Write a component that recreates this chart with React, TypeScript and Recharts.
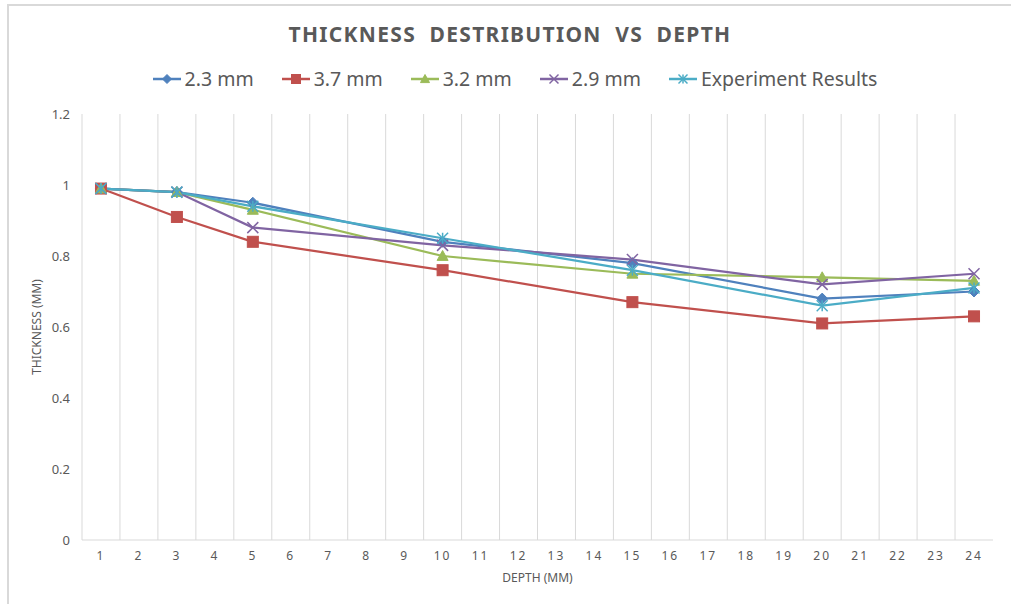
import React from 'react';
import { LineChart, Line, XAxis, YAxis, CartesianGrid, Legend } from 'recharts';

// Category axis labels (depth, mm)
const depthCategories = [
  '1', '2', '3', '4', '5', '6', '7', '8', '9', '10', '11', '12',
  '13', '14', '15', '16', '17', '18', '19', '20', '21', '22', '23', '24',
];

// Depths at which thickness was recorded
const measuredDepths = [1, 3, 5, 10, 15, 20, 24];

// Thickness values (mm) per series, one per measured depth
const thickness23 = [0.99, 0.98, 0.95, 0.84, 0.78, 0.68, 0.7];
const thickness37 = [0.99, 0.91, 0.84, 0.76, 0.67, 0.61, 0.63];
const thickness32 = [0.99, 0.98, 0.93, 0.8, 0.75, 0.74, 0.73];
const thickness29 = [0.99, 0.98, 0.88, 0.83, 0.79, 0.72, 0.75];
const thicknessExp = [0.99, 0.98, 0.94, 0.85, 0.76, 0.66, 0.71];

const yTicks = [0, 0.2, 0.4, 0.6, 0.8, 1, 1.2];

const FONT = '"Noto Sans", "Open Sans", sans-serif';
const TEXT = '#595959';
const GRID = '#d9d9d9';

type MarkerKind = 'diamond' | 'square' | 'triangle' | 'x' | 'star';

const seriesDefs: { key: string; name: string; color: string; marker: MarkerKind; values: number[] }[] = [
  { key: 's23', name: '2.3 mm', color: '#4F81BD', marker: 'diamond', values: thickness23 },
  { key: 's37', name: '3.7 mm', color: '#C0504D', marker: 'square', values: thickness37 },
  { key: 's32', name: '3.2 mm', color: '#9BBB59', marker: 'triangle', values: thickness32 },
  { key: 's29', name: '2.9 mm', color: '#8064A2', marker: 'x', values: thickness29 },
  { key: 'exp', name: 'Experiment Results', color: '#4BACC6', marker: 'star', values: thicknessExp },
];

const rows = depthCategories.map((d) => {
  const idx = measuredDepths.indexOf(Number(d));
  const row: Record<string, string | number | null> = { depth: d };
  seriesDefs.forEach((s) => {
    row[s.key] = idx >= 0 ? s.values[idx] : null;
  });
  return row;
});

const PLOT_LEFT = 82;
const PLOT_RIGHT_MARGIN = 18;
const CHART_W = 1011;
const halfBand = (CHART_W - PLOT_LEFT - PLOT_RIGHT_MARGIN) / depthCategories.length / 2;

function Marker({ kind, cx, cy, color, r }: { kind: MarkerKind; cx: number; cy: number; color: string; r: number }) {
  switch (kind) {
    case 'diamond':
      return <polygon points={`${cx},${cy - r} ${cx + r},${cy} ${cx},${cy + r} ${cx - r},${cy}`} fill={color} stroke={color} strokeWidth={1} />;
    case 'square':
      return <rect x={cx - r} y={cy - r} width={2 * r} height={2 * r} fill={color} stroke={color} strokeWidth={1} />;
    case 'triangle':
      return <polygon points={`${cx},${cy - r} ${cx + r},${cy + r * 0.8} ${cx - r},${cy + r * 0.8}`} fill={color} stroke={color} strokeWidth={1} />;
    case 'x':
      return (
        <g stroke={color} strokeWidth={1.5}>
          <line x1={cx - r} y1={cy - r} x2={cx + r} y2={cy + r} />
          <line x1={cx - r} y1={cy + r} x2={cx + r} y2={cy - r} />
        </g>
      );
    case 'star':
    default:
      return (
        <g stroke={color} strokeWidth={1.5}>
          <line x1={cx - r} y1={cy - r} x2={cx + r} y2={cy + r} />
          <line x1={cx - r} y1={cy + r} x2={cx + r} y2={cy - r} />
          <line x1={cx} y1={cy - r} x2={cx} y2={cy + r} />
        </g>
      );
  }
}

const makeDot = (kind: MarkerKind, color: string) => (props: any) => {
  const { cx, cy, index, value } = props;
  if (cy == null || cx == null || value == null || Number.isNaN(cy)) {
    return <g key={`e-${index}`} />;
  }
  return (
    <g key={`m-${index}`}>
      <Marker kind={kind} cx={cx} cy={cy} color={color} r={5.5} />
    </g>
  );
};

const LegendContent = () => (
  <div
    style={{
      display: 'flex',
      justifyContent: 'center',
      alignItems: 'center',
      fontFamily: FONT,
      fontSize: 19.5,
      color: TEXT,
      gap: 27,
    }}
  >
    {seriesDefs.map((s) => (
      <div key={s.key} style={{ display: 'flex', alignItems: 'center' }}>
        <svg width={30} height={14} style={{ marginRight: 3 }}>
          <line x1={1} y1={7} x2={29} y2={7} stroke={s.color} strokeWidth={2.5} />
          <Marker kind={s.marker} cx={15} cy={7} color={s.color} r={4.5} />
        </svg>
        <span>{s.name}</span>
      </div>
    ))}
  </div>
);

export default function App() {
  return (
    <div style={{ position: 'absolute', left: 0, top: 0, width: CHART_W, height: 604, background: '#fff', overflow: 'hidden' }}>
      <div
        style={{
          position: 'absolute',
          left: 7,
          top: 4,
          width: 1020,
          height: 620,
          borderTop: `2px solid ${GRID}`,
          borderLeft: `2px solid ${GRID}`,
        }}
      />
      <svg width={CHART_W} height={60} style={{ position: 'absolute', left: 0, top: 0 }}>
        <text
          x={510}
          y={42}
          textAnchor="middle"
          fontFamily={FONT}
          fontWeight={700}
          fontSize={21}
          letterSpacing={1.3}
          fill={TEXT}
          style={{ whiteSpace: 'pre' }}
        >
          {'THICKNESS  DESTRIBUTION  VS  DEPTH'}
        </text>
      </svg>
      <div style={{ position: 'absolute', left: 0, top: 0 }}>
        <LineChart width={CHART_W} height={604} data={rows} margin={{ top: 114, right: PLOT_RIGHT_MARGIN, bottom: 18, left: 0 }}>
          <CartesianGrid
            horizontal={false}
            stroke={GRID}
            verticalCoordinatesGenerator={({ offset }: any) =>
              depthCategories.map((_, i) => offset.left + (i * offset.width) / depthCategories.length)
            }
          />
          <XAxis
            dataKey="depth"
            height={46}
            padding={{ left: halfBand, right: halfBand }}
            axisLine={{ stroke: GRID }}
            tickLine={false}
            tickSize={0}
            tickMargin={11}
            interval={0}
            tick={{ fill: TEXT, fontSize: 12, fontFamily: FONT, letterSpacing: 2 }}
            label={{ value: 'DEPTH (MM)', position: 'insideBottom', offset: 4, fill: TEXT, fontSize: 12, fontFamily: FONT }}
          />
          <YAxis
            width={PLOT_LEFT}
            domain={[0, 1.2]}
            ticks={yTicks}
            axisLine={false}
            tickLine={false}
            tickSize={0}
            tickMargin={12}
            tick={{ fill: TEXT, fontSize: 13, fontFamily: FONT }}
            label={{ value: 'THICKNESS (MM)', angle: -90, position: 'center', dx: -4, fill: TEXT, fontSize: 12, fontFamily: FONT }}
          />
          <Legend
            layout="horizontal"
            verticalAlign="middle"
            align="center"
            wrapperStyle={{ top: 65, left: 9, width: CHART_W }}
            content={<LegendContent />}
          />
          {seriesDefs.map((s) => (
            <Line
              key={s.key}
              type="linear"
              dataKey={s.key}
              name={s.name}
              stroke={s.color}
              strokeWidth={2.25}
              connectNulls
              isAnimationActive={false}
              dot={makeDot(s.marker, s.color)}
              activeDot={false}
            />
          ))}
        </LineChart>
      </div>
    </div>
  );
}
